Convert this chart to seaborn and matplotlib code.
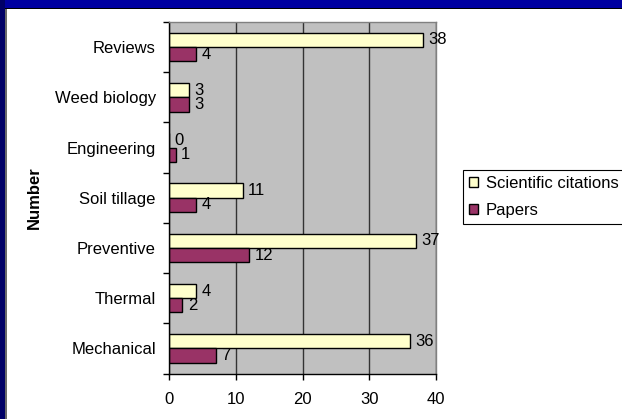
import matplotlib
matplotlib.use("Agg")
import matplotlib.pyplot as plt
import seaborn as sns
import pandas as pd
from matplotlib.patches import Rectangle
from matplotlib.ticker import FixedLocator

categories = ["Reviews", "Weed biology", "Engineering", "Soil tillage",
              "Preventive", "Thermal", "Mechanical"]
citations = [38, 3, 0, 11, 37, 4, 36]
papers = [4, 3, 1, 4, 12, 2, 7]
series_names = ["Scientific citations", "Papers"]
series_colors = ["#FFFFCC", "#993366"]
x_ticks = [0, 10, 20, 30, 40]

df = pd.DataFrame({
    "Category": categories * 2,
    "Value": citations + papers,
    "Series": [series_names[0]] * len(categories) + [series_names[1]] * len(categories),
})

plt.rcParams['font.family'] = ['Liberation Sans', 'DejaVu Sans']
plt.rcParams['font.size'] = 12

W, H = 622, 419
fig = plt.figure(figsize=(W / 100, H / 100), dpi=100, facecolor='white')

# slide frame decorations
fig.add_artist(Rectangle((0, 1 - 8 / H), 1, 8 / H, transform=fig.transFigure,
                         facecolor='#0000A0', edgecolor='none', zorder=0))
fig.add_artist(Rectangle((0, 1 - 9.5 / H), 1, 1.5 / H, transform=fig.transFigure,
                         facecolor='black', edgecolor='none', zorder=0))
fig.add_artist(Rectangle((0, 0), 5 / W, 1, transform=fig.transFigure,
                         facecolor='#000066', edgecolor='none', zorder=0))
fig.add_artist(Rectangle((5 / W, 0), 1.5 / W, 1 - 9.5 / H, transform=fig.transFigure,
                         facecolor='#6a6a6a', edgecolor='none', zorder=0))

left, right, top, bottom = 169, 436.3, 22, 373.5
ax = fig.add_axes([left / W, 1 - bottom / H, (right - left) / W, (bottom - top) / H])
ax.set_facecolor('#C0C0C0')

sns.barplot(data=df, x="Value", y="Category", hue="Series", order=categories,
            hue_order=series_names, palette=series_colors, width=0.57, gap=0,
            edgecolor="black", linewidth=1, saturation=1, errorbar=None,
            orient='h', ax=ax)

for c in ax.containers:
    ax.bar_label(c, padding=4, fontsize=12)

ax.set_xlim(0, 40)
ax.set_xticks(x_ticks)
ax.tick_params(axis='x', direction='out', length=4.5, width=1, color='black', pad=8.5,
               labelsize=12)
ax.tick_params(axis='y', which='major', length=0, pad=9.5, labelsize=12)
ax.yaxis.set_minor_locator(FixedLocator([i - 0.5 for i in range(len(categories) + 1)]))
ax.tick_params(axis='y', which='minor', direction='out', length=4, width=1, color='black')

ax.xaxis.grid(True, color='#333333', linewidth=1)
ax.yaxis.grid(False)
ax.set_axisbelow(True)

for s in ['left', 'bottom']:
    ax.spines[s].set_color('black')
    ax.spines[s].set_linewidth(1)
for s in ['top', 'right']:
    ax.spines[s].set_color('#808080')
    ax.spines[s].set_linewidth(1)

ax.set_xlabel("")
ax.set_ylabel("Number", fontweight='bold', fontsize=12)
ax.yaxis.set_label_coords((42 - left) / (right - left), 0.5)

handles, labels = ax.get_legend_handles_labels()
ax.get_legend().remove()
leg = fig.legend(handles, labels, loc='upper left',
                 bbox_to_anchor=(462.7 / W, 1 - 170 / H), bbox_transform=fig.transFigure,
                 frameon=True, fancybox=False, edgecolor='black', framealpha=1,
                 handlelength=0.55, handleheight=0.55, handletextpad=0.5,
                 labelspacing=0.75, borderpad=0.35, borderaxespad=0, fontsize=12)
leg.get_frame().set_linewidth(0.8)

fig.savefig("out.png", dpi=100, facecolor='white')
